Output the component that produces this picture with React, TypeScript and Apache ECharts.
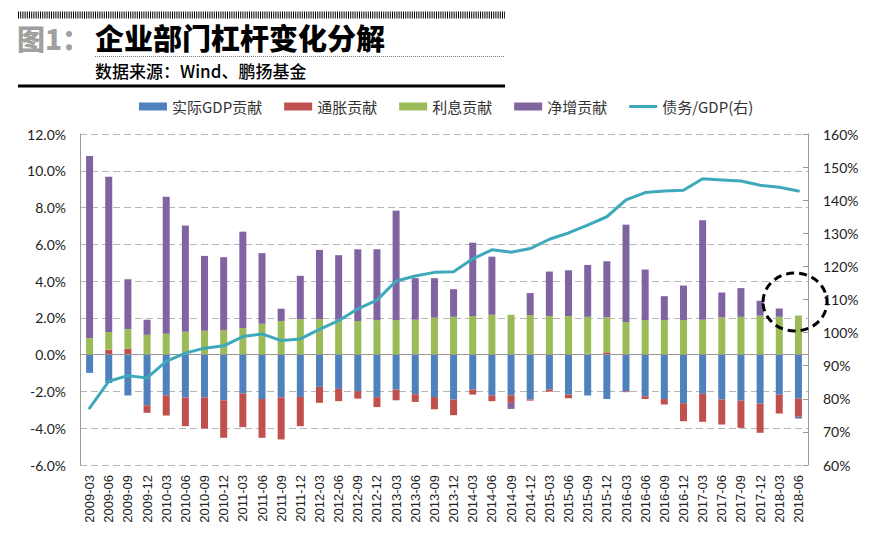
import React, { useEffect, useRef } from "react";
import * as echarts from "echarts";

const categories = [
  "2009-03","2009-06","2009-09","2009-12","2010-03","2010-06","2010-09","2010-12",
  "2011-03","2011-06","2011-09","2011-12","2012-03","2012-06","2012-09","2012-12",
  "2013-03","2013-06","2013-09","2013-12","2014-03","2014-06","2014-09","2014-12",
  "2015-03","2015-06","2015-09","2015-12","2016-03","2016-06","2016-09","2016-12",
  "2017-03","2017-06","2017-09","2017-12","2018-03","2018-06",
];

const realGdp = [
  -0.99,-1.54,-2.22,-2.75,-2.21,-2.33,-2.33,-2.48,-2.12,-2.41,-2.33,-2.30,
  -1.75,-1.86,-1.99,-2.31,-1.90,-2.15,-2.30,-2.44,-1.90,-2.21,-2.21,-2.44,
  -1.90,-2.17,-2.22,-2.41,-1.99,-2.26,-2.41,-2.64,-2.13,-2.44,-2.50,-2.66,-2.17,-2.39,
];
const inflation = [
  0,0.27,0.33,-0.41,-1.10,-1.56,-1.68,-2.04,-1.82,-2.11,-2.28,-1.59,
  -0.87,-0.67,-0.40,-0.54,-0.58,-0.42,-0.67,-0.85,-0.27,-0.32,-0.41,-0.06,
  -0.11,-0.20,0.05,0.13,-0.05,-0.15,-0.30,-0.98,-1.52,-1.36,-1.48,-1.59,-1.03,-0.96,
];
const interest = [
  0.90,0.96,1.06,1.08,1.14,1.25,1.30,1.34,1.45,1.68,1.83,1.93,
  1.93,1.90,1.83,1.88,1.88,1.90,2.01,2.06,2.10,2.17,2.17,2.15,
  2.10,2.10,2.01,1.90,1.77,1.88,1.88,1.88,1.90,2.03,2.06,2.12,2.06,2.13,
];
const netIncrease = [
  9.91,8.44,2.71,0.82,7.45,5.77,4.07,3.96,5.24,3.84,0.67,2.36,
  3.77,3.51,3.90,3.85,5.95,2.26,2.15,1.50,3.99,3.16,-0.33,1.20,
  2.42,2.49,2.82,3.05,5.30,2.75,1.30,1.88,5.41,1.35,1.56,0.81,0.45,-0.12,
];
const debtGdp = [
  77.2,85.3,87.0,86.3,91.3,93.8,95.3,96.0,98.8,99.6,97.6,98.1,
  101.0,103.6,107.2,109.8,115.6,117.1,118.2,118.4,122.3,125.0,124.3,125.4,
  128.2,130.1,132.5,135.0,140.1,142.3,142.8,143.0,146.5,146.1,145.8,144.5,143.9,142.8,
];

const seriesNames = ["实际GDP贡献", "通胀贡献", "利息贡献", "净增贡献", "债务/GDP(右)"];
const colors = ["#4F81BD", "#C0504D", "#9BBB59", "#8064A2", "#3FA9BC"];

export default function App() {
  const ref = useRef<HTMLDivElement>(null);
  useEffect(() => {
    if (!ref.current) return;
    const chart = echarts.init(ref.current, null, { renderer: "svg" });
    const barData = [realGdp, inflation, interest, netIncrease];
    const axisLabelFont = { fontFamily: "Lato", fontSize: 14, color: "#222" };
    const option: any = {
      animation: false,
      color: colors,
      textStyle: { fontFamily: "Noto Sans CJK SC" },
      grid: { left: 80, right: 66, top: 134, bottom: 85, containLabel: false },
      legend: {
        left: 134,
        top: 94,
        itemWidth: 28,
        itemHeight: 8,
        itemGap: 22,
        textStyle: { fontFamily: "Noto Sans CJK SC", fontSize: 15, color: "#333" },
        data: [
          { name: seriesNames[0], icon: "rect" },
          { name: seriesNames[1], icon: "rect" },
          { name: seriesNames[2], icon: "rect" },
          { name: seriesNames[3], icon: "rect" },
          { name: seriesNames[4], icon: "path://M0,0 L28,0 L28,3 L0,3 Z" },
        ],
      },
      xAxis: {
        type: "category",
        data: categories,
        axisLine: { show: false },
        axisTick: { show: false },
        axisLabel: {
          interval: 0,
          rotate: 90,
          margin: 10,
          fontFamily: "Liberation Sans",
          fontSize: 13,
          color: "#222",
        },
      },
      yAxis: [
        {
          type: "value",
          min: -6,
          max: 12,
          interval: 2,
          axisLine: { show: true, lineStyle: { color: "#999", width: 1 } },
          axisTick: { show: false },
          axisLabel: { ...axisLabelFont, margin: 14, formatter: (v: number) => v.toFixed(1) + "%" },
          splitLine: { show: true, lineStyle: { color: "#b5b5b5", type: [7, 4], width: 1 } },
        },
        {
          type: "value",
          min: 60,
          max: 160,
          interval: 10,
          position: "right",
          axisLine: { show: true, lineStyle: { color: "#999", width: 1 } },
          axisTick: { show: true, inside: true, length: 5, lineStyle: { color: "#999" } },
          axisLabel: { ...axisLabelFont, margin: 15, formatter: (v: number) => v + "%" },
          splitLine: { show: false },
        },
      ],
      series: [
        ...barData.map((d, i) => ({
          name: seriesNames[i],
          type: "bar",
          stack: "total",
          barWidth: 7,
          data: d,
          itemStyle: { color: colors[i] },
          ...(i === 0
            ? {
                markLine: {
                  silent: true,
                  symbol: "none",
                  label: { show: false },
                  lineStyle: { color: "#999", type: "solid", width: 1 },
                  data: [{ yAxis: 0 }],
                },
              }
            : {}),
        })),
        {
          name: seriesNames[4],
          type: "line",
          yAxisIndex: 1,
          data: debtGdp,
          symbol: "none",
          z: 5,
          lineStyle: { color: colors[4], width: 3, join: "round", cap: "round" },
          itemStyle: { color: colors[4] },
        },
      ],
      graphic: [
        {
          type: "line",
          shape: { x1: 18, y1: 15, x2: 505, y2: 15 },
          style: { stroke: "#000", lineWidth: 7, lineDash: [1, 1.2] },
        },
        {
          type: "text",
          left: 17,
          top: 24,
          style: { text: "图1：", fill: "#a0a0a0", font: "900 28px 'Noto Sans CJK SC'" },
        },
        {
          type: "text",
          left: 95,
          top: 22,
          style: { text: "企业部门杠杆变化分解", fill: "#000", font: "900 29px 'Noto Sans CJK SC'" },
        },
        {
          type: "line",
          shape: { x1: 95, y1: 56.5, x2: 505, y2: 56.5 },
          style: { stroke: "#777", lineWidth: 1, lineDash: [1, 1] },
        },
        {
          type: "text",
          left: 95,
          top: 62,
          style: { text: "数据来源：Wind、鹏扬基金", fill: "#000", font: "500 17px 'Noto Sans CJK SC'" },
        },
        {
          type: "line",
          shape: { x1: 18, y1: 86, x2: 505, y2: 86 },
          style: { stroke: "#000", lineWidth: 3 },
        },
        {
          type: "ellipse",
          z: 100,
          shape: { cx: 795, cy: 302, rx: 32, ry: 29 },
          style: { fill: "none", stroke: "#000", lineWidth: 3, lineDash: [8, 5] },
        },
      ],
    };
    chart.setOption(option);
    return () => chart.dispose();
  }, []);
  return (
    <div
      ref={ref}
      style={{ position: "fixed", left: 0, top: 0, width: 874, height: 550, background: "#fff" }}
    />
  );
}
